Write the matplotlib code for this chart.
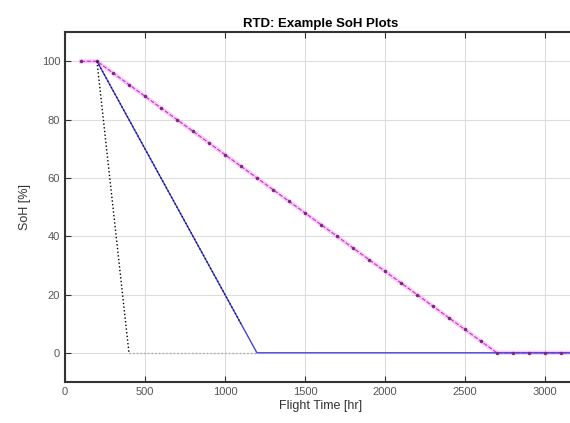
import matplotlib
matplotlib.use("Agg")
import matplotlib.pyplot as plt

plt.rcParams['font.family'] = ['Liberation Sans', 'DejaVu Sans']

# magenta curve
t_mag = [100, 200, 300, 400, 500, 600, 700, 800, 900, 1000, 1100, 1200, 1300, 1400,
         1500, 1600, 1700, 1800, 1900, 2000, 2100, 2200, 2300, 2400, 2500, 2600,
         2700, 2800, 2900, 3000, 3100, 3200]
soh_mag = [100, 100, 96, 92, 88, 84, 80, 76, 72, 68, 64, 60, 56, 52,
           48, 44, 40, 36, 32, 28, 24, 20, 16, 12, 8, 4,
           0, 0, 0, 0, 0, 0]

# blue curve
t_blue = [200, 300, 400, 500, 600, 700, 800, 900, 1000, 1100, 1200, 3200]
soh_blue = [100, 90, 80, 70, 60, 50, 40, 30, 20, 10, 0, 0]

# black dotted curve
t_blk = [200, 250, 300, 350, 400, 1200]
soh_blk = [100, 75, 50, 25, 0, 0]

fig = plt.figure(figsize=(5.7, 4.23), dpi=100)
ax = fig.add_axes([0.114, 0.097, 0.898, 0.827])

ax.plot(t_mag, soh_mag, color='#ff66ff', lw=3, alpha=0.35, zorder=2)
ax.plot(t_mag, soh_mag, color='#b040b0', lw=0.8, ls='--', zorder=3)
ax.plot(t_mag, soh_mag, ls='none', marker='.', ms=3, color='#7a2a7a', zorder=4)

ax.plot(t_blue, soh_blue, color='#4444dd', lw=1, zorder=3)
ax.plot(t_blue[:-2], soh_blue[:-2], color='#101050', lw=1, ls=':', zorder=4)

ax.plot(t_blk[:5], soh_blk[:5], color='black', ls=':', lw=1, zorder=3)
ax.plot(t_blk[4:], soh_blk[4:], color='#aaaaaa', ls=':', lw=1, zorder=3)

ax.set_xlim(0, 3200)
ax.set_ylim(-10, 110)
ax.set_xticks([0, 500, 1000, 1500, 2000, 2500, 3000])
ax.set_yticks([0, 20, 40, 60, 80, 100])
ax.grid(True, color='#dddddd', lw=0.8)
ax.set_axisbelow(True)
ax.tick_params(direction='in', top=True, right=True, labelsize=8, labelcolor='#555555',
               color='#333333', length=4)
for s in ax.spines.values():
    s.set_linewidth(1.5)
    s.set_color('#333333')

ax.set_title('RTD: Example SoH Plots', fontsize=9.5, fontweight='bold', pad=4)
ax.set_xlabel('Flight Time [hr]', fontsize=9, labelpad=2, color='#333333')
ax.set_ylabel('SoH [%]', fontsize=9, labelpad=8, color='#333333')

fig.savefig('out.png', dpi=100)
